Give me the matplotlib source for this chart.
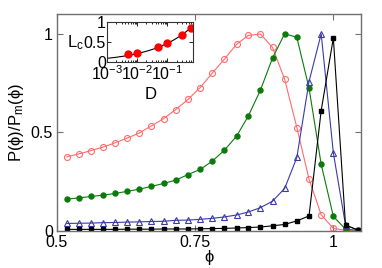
import matplotlib
matplotlib.use("Agg")
import matplotlib.pyplot as plt
import numpy as np
from matplotlib.ticker import LogLocator, NullFormatter, FixedLocator

plt.rcParams['font.family'] = ['Liberation Sans', 'DejaVu Sans']
plt.rcParams['mathtext.fontset'] = 'custom'
plt.rcParams['mathtext.rm'] = 'Liberation Sans'
plt.rcParams['mathtext.it'] = 'Liberation Sans:italic'
plt.rcParams['mathtext.default'] = 'regular'

# ---- data ----
phi = [0.518, 0.540, 0.562, 0.584, 0.605, 0.627, 0.649, 0.671, 0.693, 0.715,
       0.737, 0.759, 0.781, 0.803, 0.825, 0.846, 0.868, 0.890, 0.912, 0.934,
       0.956, 0.978, 1.000, 1.022, 1.044]
red = [0.375, 0.390, 0.407, 0.425, 0.446, 0.470, 0.496, 0.532, 0.569, 0.615,
       0.666, 0.726, 0.800, 0.871, 0.946, 0.991, 0.998, 0.930, 0.768, 0.523,
       0.262, 0.081, 0.012, 0.002, 0.001]
green = [0.160, 0.167, 0.174, 0.181, 0.189, 0.200, 0.211, 0.225, 0.240, 0.257,
         0.285, 0.311, 0.353, 0.409, 0.480, 0.581, 0.713, 0.876, 1.000, 0.981,
         0.724, 0.337, 0.073, 0.008, 0.002]
blue = [0.037, 0.038, 0.039, 0.041, 0.042, 0.044, 0.045, 0.047, 0.048, 0.053,
        0.054, 0.058, 0.063, 0.070, 0.080, 0.095, 0.117, 0.150, 0.215, 0.372,
        0.757, 0.999, 0.395, 0.029, 0.003]
black = [0.007, 0.007, 0.007, 0.007, 0.007, 0.008, 0.008, 0.008, 0.009, 0.009,
         0.009, 0.010, 0.011, 0.012, 0.014, 0.016, 0.019, 0.025, 0.032, 0.050,
         0.075, 0.610, 0.978, 0.029, 0.004]

D = [0.005, 0.01, 0.05, 0.1, 0.3, 0.6]
Lc = [0.20, 0.24, 0.39, 0.49, 0.68, 0.86]
fit_amp = 1.02
fit_exp = 1.0 / 3.0

xticks = [0.5, 0.75, 1.0]
xticklabels = ['0.5', '0.75', '1']
yticks = [0, 0.5, 1]
yticklabels = ['0', '0.5', '1']

c_red = '#ff6b6b'
c_green = '#0a7a0a'
c_blue = '#3a3aa8'
c_black = '#000000'
frame = '#707070'

fig = plt.figure(figsize=(3.82, 2.68), dpi=100)
ax = fig.add_axes([0.149, 0.139, 0.796, 0.809])

ax.plot(phi, red, '-', color=c_red, lw=0.8, marker='o', ms=4.3,
        mfc='none', mec=c_red, mew=0.8)
ax.plot(phi, green, '-', color=c_green, lw=0.8, marker='o', ms=3.6,
        mfc=c_green, mec=c_green)
ax.plot(phi, blue, '-', color=c_blue, lw=0.8, marker='^', ms=4.2,
        mfc='none', mec=c_blue, mew=0.8)
ax.plot(phi, black, '-', color=c_black, lw=0.8, marker='s', ms=3.4,
        mfc=c_black, mec=c_black)

ax.set_xlim(0.5, 1.05)
ax.set_ylim(0, 1.1)
ax.set_xticks(xticks)
ax.set_xticklabels(xticklabels)
ax.set_yticks(yticks)
ax.set_yticklabels(yticklabels)
ax.tick_params(direction='in', top=True, right=True, length=4, width=0.8,
               color=frame, labelsize=11.5, pad=3)
for s in ax.spines.values():
    s.set_color(frame)
    s.set_linewidth(1.0)
ax.set_xlabel('ϕ', fontsize=12, labelpad=0)
ax.set_ylabel('P(ϕ)/P$_{\\rm m}$(ϕ)', fontsize=12, labelpad=3)

# ---- inset ----
ins = fig.add_axes([0.281, 0.767, 0.224, 0.151])
Dfit = np.logspace(-3, np.log10(0.7), 200)
ins.plot(Dfit, fit_amp * Dfit ** fit_exp, '-', color='black', lw=0.8)
ins.plot(D, Lc, 'o', color='red', ms=5, mec='red')
ins.set_xscale('log')
ins.set_xlim(1e-3, 0.7)
ins.set_ylim(0, 1)
ins.set_yticks([0, 0.5, 1])
ins.set_yticklabels(['0', '0.5', '1'])
ins.xaxis.set_major_locator(FixedLocator([1e-3, 1e-2, 1e-1]))
ins.xaxis.set_minor_locator(LogLocator(base=10, subs=np.arange(2, 10)))
ins.xaxis.set_minor_formatter(NullFormatter())
ins.tick_params(which='both', direction='in', top=True, right=True,
                labelsize=11.5, pad=1, width=0.6)
ins.tick_params(which='major', length=3)
ins.tick_params(which='minor', length=1.5)
for s in ins.spines.values():
    s.set_linewidth(0.8)
    s.set_color('#333333')
ins.set_xlabel('D', fontsize=12, labelpad=3)
ins.set_ylabel('L$_{\\rm c}$', fontsize=12, rotation=0, labelpad=6, va='center')

fig.savefig('out.png', dpi=100)
